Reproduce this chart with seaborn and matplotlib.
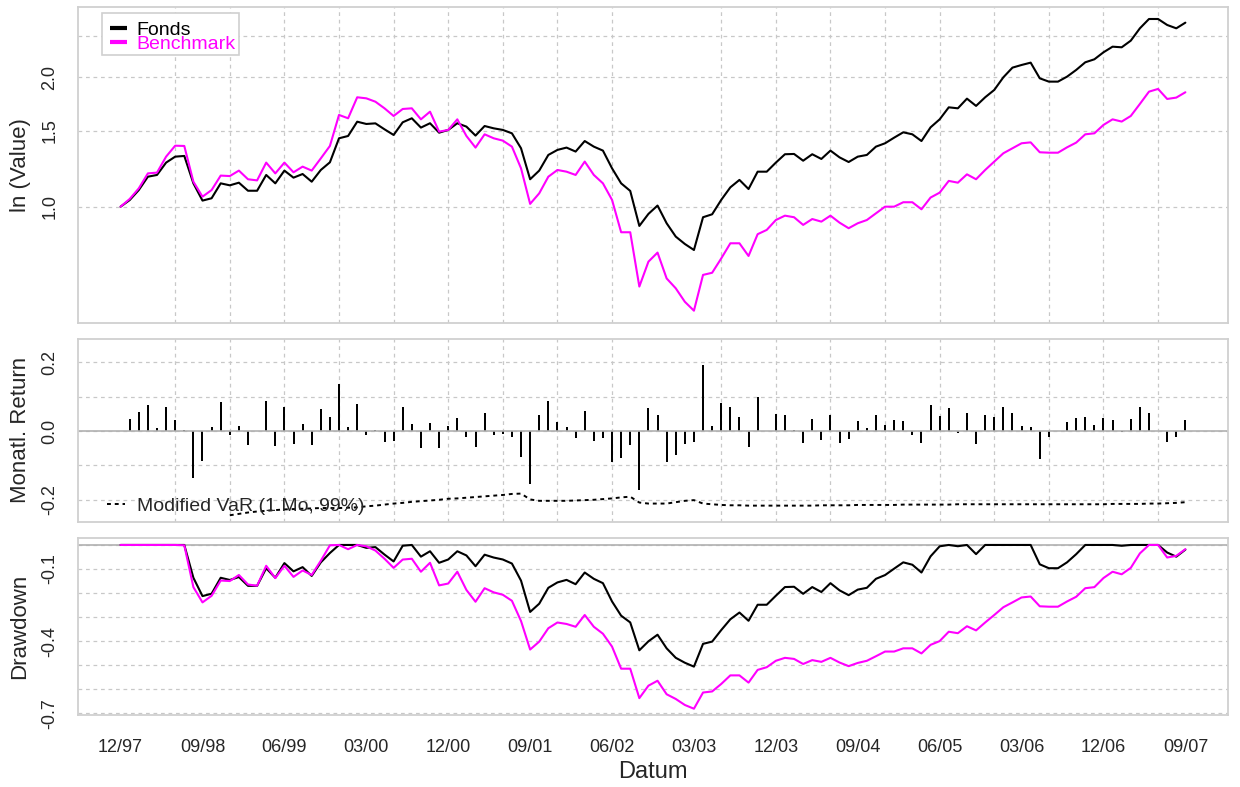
import numpy as np
import pandas as pd
import matplotlib
matplotlib.use("Agg")
import matplotlib.pyplot as plt
from matplotlib.ticker import NullLocator
import seaborn as sns

# monthly data, 12/97 .. 09/07 (index positions, one per month)
tick_labels = ["12/97", "09/98", "06/99", "03/00", "12/00", "09/01", "06/02",
               "03/03", "12/03", "09/04", "06/05", "03/06", "12/06", "09/07"]

fonds = [1.000, 1.036, 1.093, 1.174, 1.185, 1.266, 1.307, 1.312, 1.133, 1.033,
         1.046, 1.133, 1.121, 1.137, 1.089, 1.089, 1.185, 1.133, 1.213, 1.168,
         1.191, 1.143, 1.217, 1.268, 1.442, 1.460, 1.576, 1.557, 1.562, 1.513,
         1.468, 1.571, 1.605, 1.527, 1.563, 1.486, 1.508, 1.563, 1.535, 1.463,
         1.540, 1.521, 1.508, 1.481, 1.367, 1.158, 1.213, 1.319, 1.355, 1.372,
         1.343, 1.421, 1.379, 1.350, 1.228, 1.133, 1.088, 0.902, 0.962, 1.006,
         0.915, 0.852, 0.819, 0.793, 0.945, 0.960, 1.037, 1.109, 1.154, 1.099,
         1.206, 1.206, 1.266, 1.324, 1.326, 1.279, 1.324, 1.291, 1.350, 1.302,
         1.270, 1.307, 1.319, 1.379, 1.404, 1.447, 1.489, 1.473, 1.421, 1.529,
         1.596, 1.702, 1.693, 1.783, 1.715, 1.796, 1.868, 1.999, 2.105, 2.135,
         2.162, 1.988, 1.953, 1.953, 2.006, 2.079, 2.166, 2.201, 2.285, 2.355,
         2.347, 2.432, 2.598, 2.731, 2.731, 2.645, 2.598, 2.678]

benchmark = [1.000, 1.042, 1.103, 1.195, 1.200, 1.307, 1.386, 1.384, 1.143, 1.055,
             1.093, 1.181, 1.178, 1.213, 1.158, 1.151, 1.266, 1.195, 1.266, 1.202,
             1.239, 1.213, 1.295, 1.384, 1.634, 1.605, 1.796, 1.786, 1.754, 1.693,
             1.625, 1.687, 1.693, 1.596, 1.663, 1.494, 1.508, 1.596, 1.460, 1.372,
             1.473, 1.442, 1.424, 1.379, 1.228, 1.015, 1.074, 1.174, 1.217, 1.206,
             1.185, 1.273, 1.185, 1.133, 1.037, 0.872, 0.872, 0.652, 0.745, 0.782,
             0.681, 0.646, 0.601, 0.573, 0.694, 0.702, 0.758, 0.822, 0.822, 0.768,
             0.863, 0.883, 0.931, 0.953, 0.945, 0.907, 0.936, 0.923, 0.953, 0.918,
             0.891, 0.915, 0.931, 0.965, 1.000, 1.000, 1.024, 1.024, 0.986, 1.050,
             1.078, 1.148, 1.137, 1.189, 1.158, 1.217, 1.273, 1.331, 1.367, 1.404,
             1.411, 1.338, 1.335, 1.335, 1.374, 1.409, 1.473, 1.481, 1.549, 1.596,
             1.577, 1.625, 1.733, 1.851, 1.878, 1.780, 1.793, 1.845]

# modified VaR (1 Mo, 99%), no value for the first 12 months
var_mod = [np.nan] * 12 + [
    -0.245, -0.241, -0.237, -0.234, -0.232, -0.230, -0.228, -0.227,
    -0.226, -0.225, -0.224, -0.224, -0.224, -0.223, -0.222, -0.219, -0.217, -0.214,
    -0.211, -0.209, -0.206, -0.204, -0.202, -0.200, -0.197, -0.196, -0.194, -0.192,
    -0.190, -0.188, -0.186, -0.183, -0.182, -0.199, -0.203, -0.203, -0.203, -0.203,
    -0.202, -0.201, -0.200, -0.198, -0.196, -0.193, -0.191, -0.208, -0.211, -0.211,
    -0.211, -0.207, -0.203, -0.201, -0.211, -0.213, -0.215, -0.216, -0.216, -0.217,
    -0.217, -0.217, -0.217, -0.217, -0.217, -0.217, -0.217, -0.216, -0.216, -0.216,
    -0.216, -0.215, -0.215, -0.215, -0.215, -0.215, -0.214, -0.214, -0.214, -0.214,
    -0.214, -0.214, -0.213, -0.213, -0.213, -0.213, -0.213, -0.213, -0.213, -0.213,
    -0.213, -0.213, -0.213, -0.213, -0.213, -0.213, -0.213, -0.213, -0.213, -0.212,
    -0.212, -0.212, -0.212, -0.211, -0.211, -0.210, -0.209, -0.207]

n = len(fonds)
idx = np.arange(n)
fonds_s = pd.Series(fonds)
bench_s = pd.Series(benchmark)
returns = fonds_s.pct_change()
dd_fonds = fonds_s / fonds_s.cummax() - 1
dd_bench = bench_s / bench_s.cummax() - 1

sns.set_style("white")
plt.rcParams["font.family"] = ["Liberation Sans", "DejaVu Sans"]

border = "#d0d0d0"
gridc = "#c8c8c8"
magenta = "#ff00ff"

fig = plt.figure(figsize=(12.4, 7.87), dpi=100)
ax1 = fig.add_axes([0.0629, 0.5900, 0.9274, 0.4015])
ax2 = fig.add_axes([0.0629, 0.3371, 0.9274, 0.2322])
ax3 = fig.add_axes([0.0629, 0.0912, 0.9274, 0.2246])


def style_panel(ax, yticks, ylabels, title):
    for s in ax.spines.values():
        s.set_color(border)
        s.set_linewidth(1.3)
    ax.set_axisbelow(True)
    ax.set_xlim(-4.68, n - 1 + 4.68)
    ax.set_xticks(idx[::6], minor=True)
    ax.grid(which="minor", axis="x", color=gridc, linestyle=(0, (3, 3)), lw=0.9)
    ax.yaxis.set_minor_locator(NullLocator())
    ax.set_yticks(yticks)
    ax.set_yticklabels(ylabels)
    ax.grid(which="major", axis="y", color=gridc, linestyle=(0, (3, 3)), lw=0.9)
    ax.grid(which="major", axis="x", visible=False)
    ax.tick_params(axis="x", which="both", length=0, labelbottom=False)
    ax.tick_params(axis="y", length=10, width=1, color=border, labelsize=13,
                   labelrotation=90, pad=4)
    plt.setp(ax.get_yticklabels(), va="center")
    ax.set_xlabel("")
    ax.set_ylabel("")
    ax.text(-0.0504, 0.5, title, transform=ax.transAxes, rotation=90,
            ha="center", va="center", fontsize=16)


# cumulative value
sns.lineplot(x=idx, y=fonds, color="black", linewidth=1.5, ax=ax1, legend=False)
sns.lineplot(x=idx, y=benchmark, color=magenta, linewidth=1.5, ax=ax1, legend=False)
ax1.set_yscale("log")
ax1.set_ylim(0.5374, 2.917)
style_panel(ax1, [1.0, 1.5, 2.0, 2.5], ["1.0", "1.5", "2.0", ""], "ln (Value)")

ax1.add_patch(plt.Rectangle((0.0206, 0.847), 0.1197, 0.132, transform=ax1.transAxes,
                            facecolor="white", edgecolor=border, lw=1.2, zorder=5))
ax1.plot([0.0278, 0.0426], [0.9335, 0.9335], transform=ax1.transAxes, color="black",
         lw=3, solid_capstyle="butt", zorder=6)
ax1.plot([0.0278, 0.0426], [0.889, 0.889], transform=ax1.transAxes, color=magenta,
         lw=3, solid_capstyle="butt", zorder=6)
ax1.text(0.051, 0.9104, "Fonds", transform=ax1.transAxes, va="baseline",
         fontsize=14, color="black", zorder=6)
ax1.text(0.051, 0.8652, "Benchmark", transform=ax1.transAxes, va="baseline",
         fontsize=14, color=magenta, zorder=6)

# monthly returns
sns.barplot(x=idx[1:], y=returns[1:].values, native_scale=True, color="black",
            width=0.22, linewidth=0, errorbar=None, saturation=1, ax=ax2)
sns.lineplot(x=idx, y=var_mod, color="black", linewidth=1.4, linestyle=(0, (2, 2)),
             ax=ax2, legend=False)
ax2.axhline(0, color="#b0b0b0", lw=1.2, zorder=1)
ax2.set_ylim(-0.2637, 0.2674)
style_panel(ax2, [-0.2, -0.1, 0.0, 0.1, 0.2], ["-0.2", "", "0.0", "", "0.2"],
            "Monatl. Return")
ax2.plot([0.0252, 0.0409], [0.0969, 0.0969], transform=ax2.transAxes, color="black",
         lw=1.4, linestyle=(0, (2, 2)))
ax2.text(0.0513, 0.0586, "Modified VaR (1 Mo, 99%)", transform=ax2.transAxes,
         va="baseline", fontsize=14)

# drawdown
sns.lineplot(x=idx, y=dd_fonds.values, color="black", linewidth=1.5, ax=ax3, legend=False)
sns.lineplot(x=idx, y=dd_bench.values, color=magenta, linewidth=1.5, ax=ax3, legend=False)
ax3.axhline(0, color="#b0b0b0", lw=1.2, zorder=1)
ax3.set_ylim(-0.708, 0.027)
dd_ticks = [0.0, -0.1, -0.2, -0.3, -0.4, -0.5, -0.6, -0.7]
dd_labels = ["", "-0.1", "", "", "-0.4", "", "", "-0.7"]
style_panel(ax3, dd_ticks, dd_labels, "Drawdown")

xt = idx[::3]
xl = [tick_labels[k // 3] if k % 3 == 0 else "" for k in range(len(xt))]
ax3.set_xticks(xt)
ax3.set_xticklabels(xl)
ax3.tick_params(axis="x", which="major", length=9, width=1, color=border,
                labelbottom=True, labelsize=13, pad=8)
ax3.tick_params(axis="x", which="minor", length=0)

fig.text(0.5266, 1 - 772 / 787, "Datum", ha="center", va="center", fontsize=17)

fig.savefig("out.png", dpi=100)
